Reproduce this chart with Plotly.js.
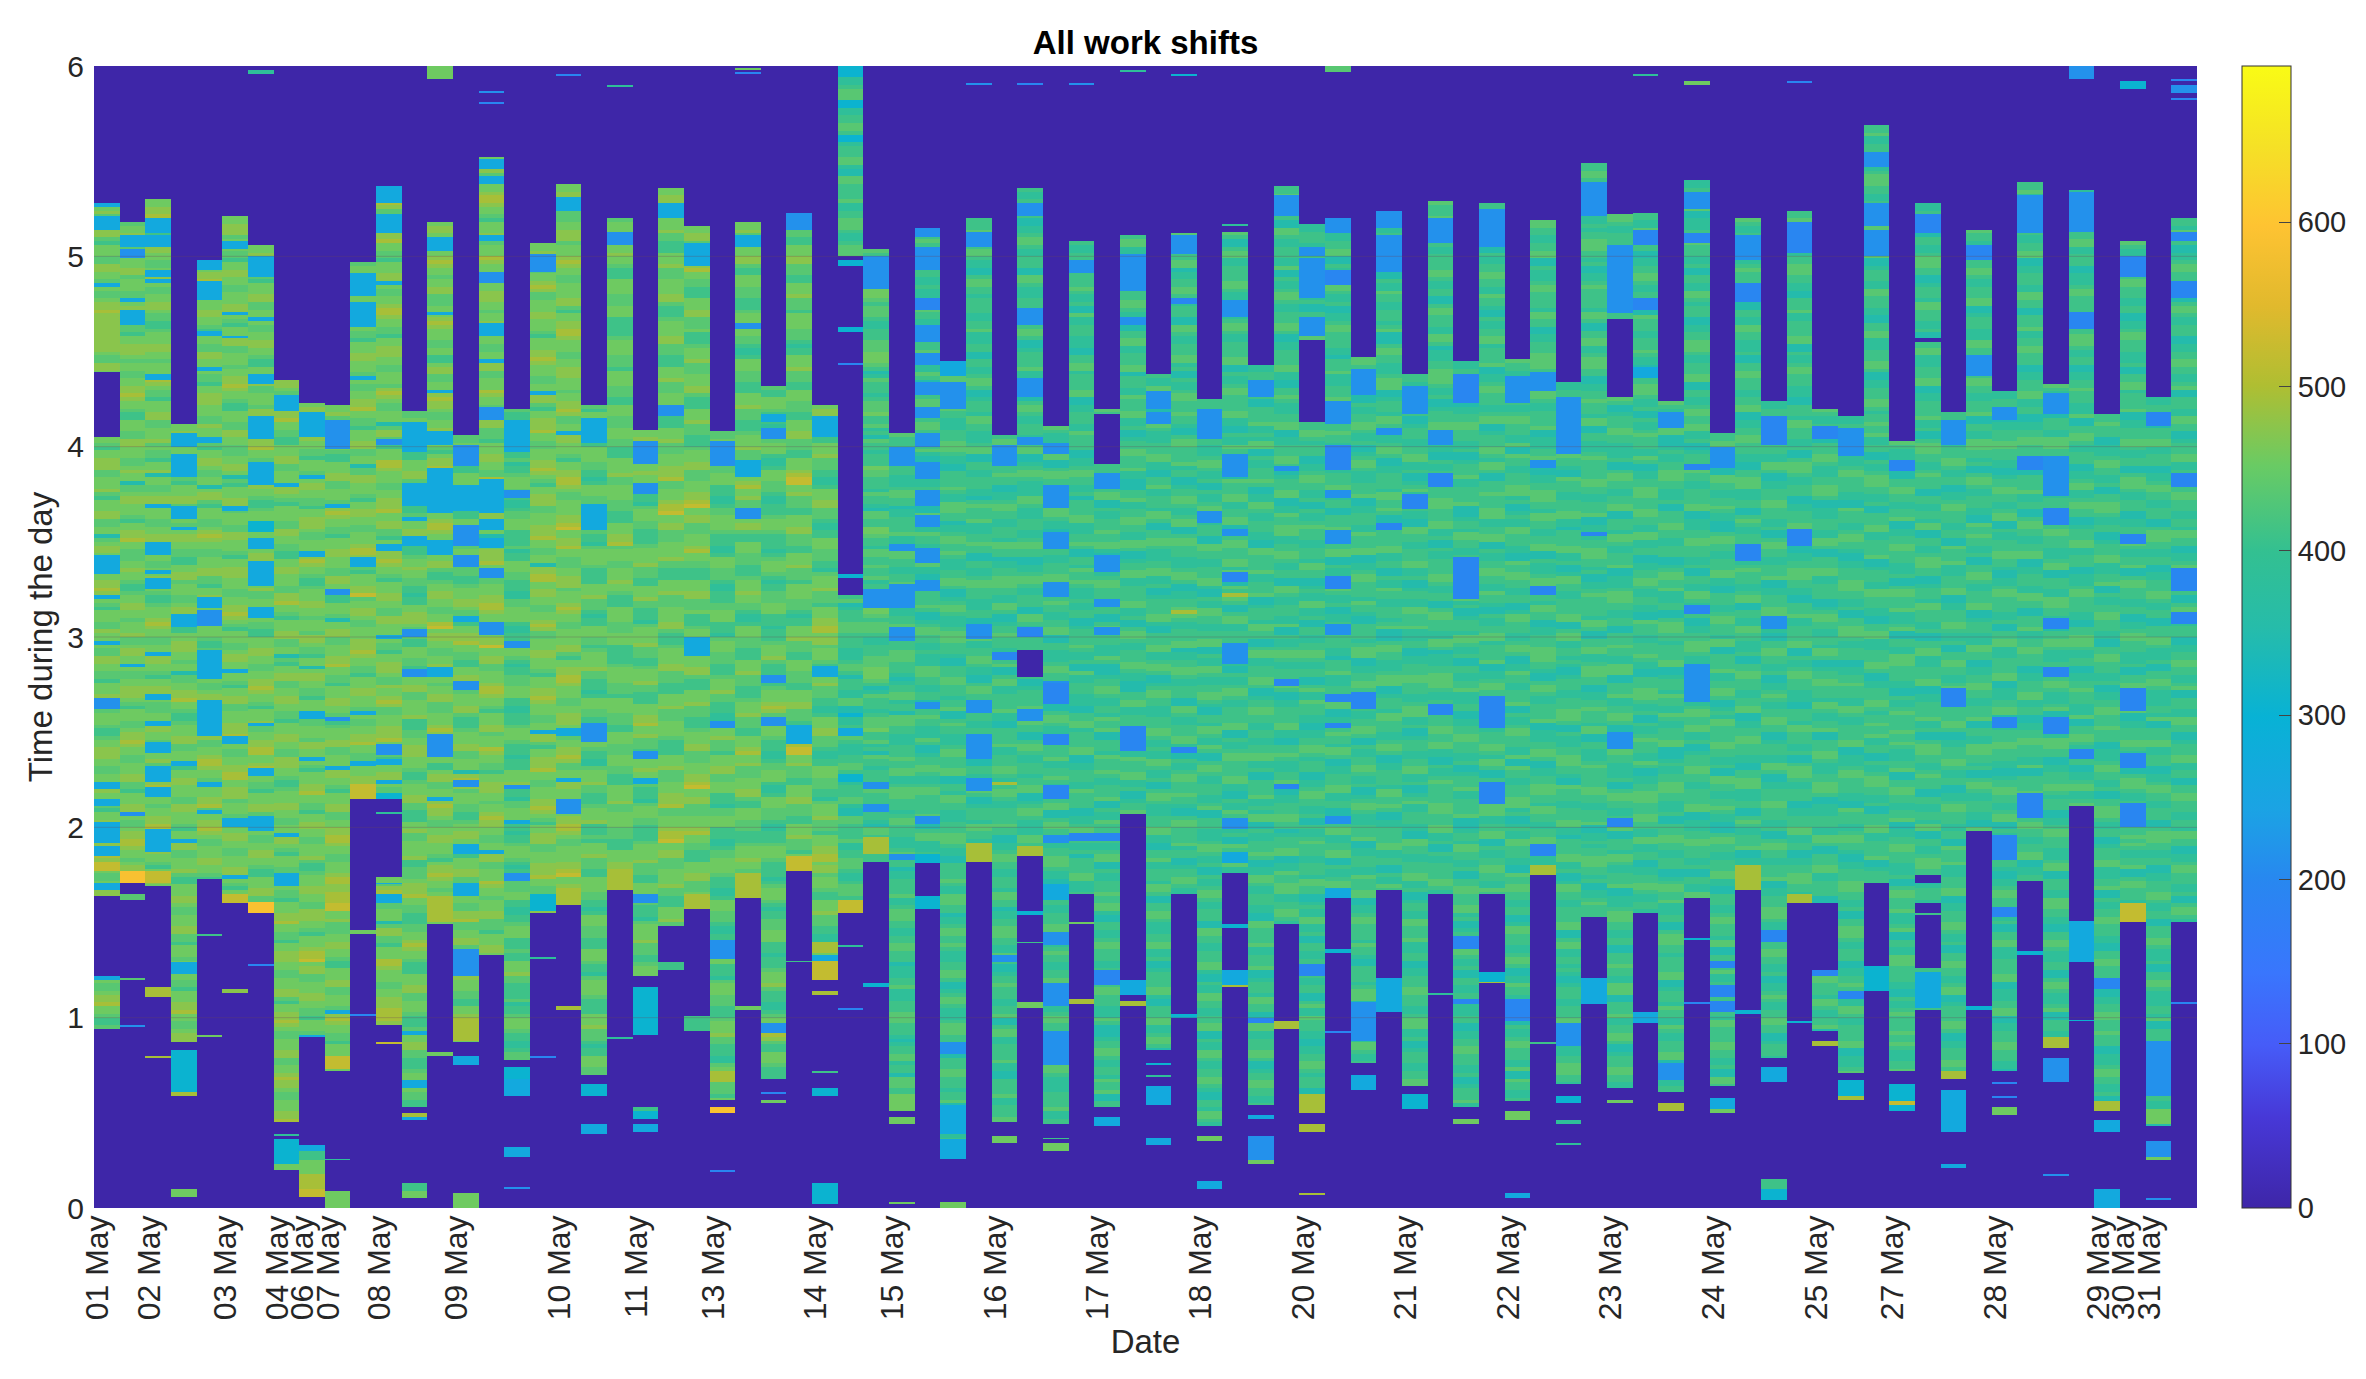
<!DOCTYPE html>
<html><head><meta charset="utf-8">
<script src="https://cdn.plot.ly/plotly-3.0.1.min.js"></script>
<style>html,body{margin:0;padding:0;background:#fff}</style></head>
<body><div id="chart" style="width:2366px;height:1379px"></div>
<script>
const dateCols=[0,2,5,7,8,9,11,14,18,21,24,28,31,35,39,43,47,51,55,59,63,67,70,74,78,79,80];
const dateLabels=["01 May","02 May","03 May","04 May","06 May","07 May","08 May","09 May","10 May","11 May","13 May","14 May","15 May","16 May","17 May","18 May","20 May","21 May","22 May","23 May","24 May","25 May","27 May","28 May","29 May","30 May","31 May"];
const yTicks=[0,1,2,3,4,5,6];
const barTicks=[0,100,200,300,400,500,600];
const levels={a:195,b:215,c:265,d:305,e:350,f:385,g:410,h:435,i:455,j:475,k:495,l:520,m:590};
// active time spans of each column, hours x100, top-bottom
const spans=["528-439 405-164 122-94","518-171","530-169","412-87","498-173","521-160","506-155","435-45","423-90","422-72","497-215","537-215 174-96","419-53","518-149","406-87","552-133","420-78","507-155","538-159","422-70","520-167","409-122 116-91","536-148","516-157","408-57","518-163","432-68","522-177","422-120","600-500 322-155","504-182","407-51","515-181","445-26","520-182","406-45","536-293 279-185","411-44","508-165","420-417 391-53","511-207","438-83","512-165","425-43","513-176","443-54","537-149","517-456 413-50","520-163","447-76","524-167","438-64","529-165","445-53","528-165","446-56","519-175","434-65","549-153","522-467 426-63","523-155","424-61","540-163","407-64","520-167","424-79","524-160","420-160 125-93","416-71","569-171","403-72","528-457 455-175 171-160 155-154 126-104","418-68","514-198","429-72","539-172","433-84","535-211 151-129","417-51","508-150","426-43","520-150"];
// fine structure of each column, one letter per 0.02 h from the column's top
const stripes=[
"iijhhiijjhgiiihhjjiihcihhijjkiihgghiijiihhjjiiihhgiijjhiiihhjiihgiijjjhhiiijhgiiijjhhiiehijjiihhhiijjkjiihgiiihhjiicihhjjiihhgiiijjjhhiiihgghiijjjiihhiijkjiihhgiijiihhijjkkjiiihhijjj",
"hiijjihhgiiijjhiiihhcijjiiihhgiijjjihiihhiijjkjiihggiiihhjjiiihhijiiehhijjiiihgiijjkiihhhiijiihgghiijjiihiiijhhijjiicihhiijjjihgiiihhijjkjiihhiiijjhhgiiijjiihhijjkkjiihijjjj",
"iijjkjiihgiijjiihhiijcihhiijjihhgghiiijjiihiiijkjihhgiiijjhhiiijhihhgiijeiihhijjjiiihhiijjhgiiihhiijjiihgghiiijkjiihhiicjjiihgiijjiihhhiijjjiihgiiijhhiijjkkjiihiijjkk",
"iijhhiiijjkiihhgiiijjhhiiihcijjiihhggiijjhiiihhijjiihggiijjjiihiiehhiijjkiihgghiiijjhhiiihgiijjiiihhjjiiihgiicjjhhiiijhggiiijjihhiiijjhhgiiihijjiihhgiiijjkiihhijjjii",
"hiijjkjihhiiijjiihgiiihhjjiicihhgiijjjiiihhjiiihhgiijjihhiieijjhgiiihhijkjiihhiiijjhhgiijjiiihhjiiihgghiijjiicihhijjjiihgiiijjhhiijkkjiihhiiijjk",
"iijjjhiiihhgiijjiihhiiijjcihgiiijjhhiiihiijjkjiihggiiihhjjiihhhiijjiehgiiijjhhiiihhjjiiihgiijjjiiihhiijjkjihgiiihhijjiiciihgiijjhhiiijjjkiiihhiijjkk",
"iijkjiihhgiiijjhhiicihhiijjiihggiiijjhhiiihjjiihgiijjkiihhiiehjjiihgghiiijjiihhiijjiihgiiijhhiijjcihhggiiijjiihhiijjkjiihgiiijhhiijjkk",
"jjihhiiijjkiihhggiiijjhhiiicjjihgiiiihhjjiihhggiijjiiihhjjkiihgiiijjhhiiehgiijjhhiijjiihhgiiijjiihhjjjiihgghiiijjiihhiicjjihgiiihhjjiihhgiiijjkiihhgiijjjiihhiiijjhgiijjkjihhiiijjhhiijk",
"ijjhhiiijjiihhgiiihcijjiihhgiijjjihhiiijjkjiihgghiiijjiihiiihjjihhgiieijjiihhgiiijjhhiiihjjiicihgiiijjkiihhgiijjiihhiiijhgghiiijjiihhjjjiihgiiijkkl",
"iijhhhiijjiihggiiijjhhiiihcjkjiihhgiiijjiiihhjjiihggiiiheiijjhhiiijjkiihhgiiijjiihgghiiijjhhiiicjjiihgiiijjhhiijjkkjiihhiiijkkjjkkkll",
"hiijjihhiiijjjkjiihhgiiijjiiihcihhiijjkiihhgiiijjhhiiehhjjiiihgiijjiihhiiijkkjiihgiiijjl",
"jiijkjhhiiijjjkiihhgiiijjcihhiijkkjiihhgiijjjiihhiiihjkjihhiiiehjjhhgiiikkjiiihhiijjjkiijjhhgiiijjkjiihgiiijjiihhjjiiicihhgiijjjihh",
"hhiijkjiihgggiiijjhhiiihggghciijjhhggghiijiihhggfggiijjjihhhggiiihhgggiijjhhiiiijggghhiijjjiiihgghiiijjhhgggiijhhiiiijgghhhijjjkiihhggg",
"ijjiihhiijkjiihiijjhhhiiijkjiiihhiiggijjhhiicjkjjihhiijjiiihgijjkjiihiijjhhiiijkkjiihhiiijjhgghiijjiihhiikl",
"hhiijjhhggiiijjiiihhggiijjcihhiijjhhhgghiiijjihhhgiijjkiihhggiijjihhiiijjhggghiiijjhhiiiejkkjhiiihhgghiijjiihggiiijjhhggiiihhjjk",
"iijjhhiiijkkjiihgiiijjhiiikjiihhgiijjjiihiijkjjiihhiicjjhhiiikjiihiiijjhhhgiiijjiihhkjjiihiijjjkjiiehhijjjkiijhhiiijjkkjiihhiijjl",
"hggiiijhhgggghfgghiiihggffghhiiigggghfggiiihhgggffhhiiiigffgghiiihgfgghhhiiiggffggghiiihgggfgggiiijgggfhhiiicggfgghiiihgfggghhhiiggffgghiiiggg",
"iijjiihhiijkjhhiiijjiiihgiiijjkjiiihhiicjjhgiijjjkiihhiiijjkjihgiijjjhhiiijjjkiihhiiejjkk",
"iijjkiihhhiijjjhiiijkjiihhiiiijjhgiijjkkjiiihhiijjjiiihiijjkjhhiicjjiiihgiijjkkjihhiiiijjkl",
"hgiiijhhhggiiiihhggfgiiihhhgggiiihggfhiiiihggggiiijhhhgfggiiihhghiiiijhhgggfgiiihhggghiiiihggffhiiijhhggghiiijggg",
"hiiihhiiijiihgggiiiihhhiiiggggghiiiihhhgiiiihhhggiiihhhiiihhgggiiiijhhiiiihhhgggiiijjk",
"iijhhhggiiijiiihgggfhiiihhgggghiiiijhhhggiiijhhgggfhiiiijhhhgghiiijhhgggiiijjk",
"iijjhhhiiiijhhgggiiijhhhiiiijjhggghiiiijjhhhgggiiijhhhiiiihggggiiijhhhiiijjjkhhiiijkkl",
"iijjhhhiiijkiihhgggiiijjhhhiggghiiijhhhiiijjhgggiiijhhhggghiiijjhhhiiijjkl",
"hhiiigggfhhiiigggffghhiiiihgggffgiiihhhgffggghhiiigggfhiiihhhggghiiijhhgggffhiiijhhhgiiijj",
"iijhhhiiijjhggiiihhhggghiiijiihhgffgiiihhhgggiiijhhhggghiiijhhhggiiijk",
"hggiiihgggffghhiiigffgiiihhhgffggghiiihggggfghiiihgfgghhhiiigggfggghiiijhgggffghiiijkj",
"iijhhhggiiijjhhhggiiijhhhgiiiihhhgfggiiijhhhggiiihhhggiiijjhhhggiiijkll",
"ijjhiiihggiiijhhhggffgiiijjhhhgffggiiihhhggfhiiijhhhgiiijjkk",
"eedffghhhgfffgghhgddfggghhfeehhgggghffgghhhgffghhhgddfgghefggghhhggggfffghhgegggffhh",
"hgghfgghhgiiihghhhgffggghhhiiihgefhgggfghhhigghfgehggfgggihhgggfhggfehhggiihggfhhgg",
"hgggfghhgggfffghhggeffgggghffghhhggffgghhgggefffgghfffggghhhgggfefgghhfggehhhggfffggghgghhffghh",
"ggghgeefghhggffgfffhhhggffggeggghggfffhgeefgghhgffghhggggghfeeghhfffggghgeehggffhggffggghffeehgg",
"hggghheeggfhhggfffggghhhgffeegggghgffhhhggeffghhgghgfffgghhgeefghhgfffghhhgggfeeggghhgggfggheeghggfffgh",
"ggghffgghhgffeeghhggfggggffgghfffggeeggffghhgeefgggfhhggfffghheeggffgggffeghggghfffgghggeeggffghhgggfffggee",
"ghhgffgggghggeeffghhggffgggfhhggeffgghhhggffhhgeefgghgggffggheeghhffgggghffeegggghffggghhgfk",
"gffghhggeeffghhgffgggeehhgfffgggghfgghhgeefgggghfffhggeeghhgffgggfgghheefghhgffffhhgfffgg",
"hgfffgghheeghhgggffgghhhgffeehhgggffggghheeffghggffgghheeggfffghhgggfgggheeghhgffffgggghffgg",
"gffggeefgggghgffgeehffgggfffeegghhfgggghheeffgggffhggggeeffghhggffgegggghhfffgghgeeggfhgghgfff",
"hgffgggheegffhgggggffghheegffggghgghhfeeggffghhgggffggeeghhgggfffhgeeefgghhgffggfhggheegggfhggg",
"ghhffgeeghhgffggghhgffeeegghhffggghhegggffhggghhffgeefgghhggghffeeegghffgghhggffhhgeefgghhffggg",
"gffhhgffgeeghhgfffggghhffeegghffgggfhhgeegghhgfffgghhffgeefgggghhfeeggghhffghhgeefghhggfffggghhgff",
"hgffggghheffgghhgffgggeehhgffggghhfgeegffghhggghggfeeghhgggghfggeefgghhgffghheeghhgggfffghhgeeffgghk",
"gggffgheegggfffghhgffgeegffghhgffgggeehhggffggghhfeegffhhggffgghheegffhhgffgghhgfeeggfhhgffhgeeghhgff",
"hgeeghhffgggghhgffeegffghhgffgggghheegffghhgggghhffeegffhgggffgeehggghhffgghheefghhggghhfhheehgk",
"ffgghhffgeegggghffgfhheegffggghgeeffhhgffgggffeehhgggghffgggheefgggfhhggeeghhffggghhgeefgghhggffgg",
"gghhgffggeehhgffgggffheegffghhgffggghhgeeffgggghhffeegghgfffgghheeffggghhggefggghheeffhgghhhff",
"ffgggfhhggeefgffhhffgeeggffgghhgffggeeghffhgggffeeffgghhgfgggeeffghhggffgeegffghggg",
"gghhffgghheegffghhhgffgeeffghhggggffeggghfffggghhheeffgghggfhhgeeffggghhffggeeg",
"hhgffgghhgeegffgghhgffgeefghhgfffgggheeffgggffhggghheeffghhggggfhggfeeggggfghhheeffgghhgff",
"hgeeffgggghhffggeegffhggffgggfgheeeghhggfffghhheefgggfhhgggffghhgeeffggggfhhgg",
"ggffghhhffgeefgggffgghhffgeefghffgggffeehhggffggghhffgeefggffhhggghfffggeeffggghhg",
"hggghhffgeegffgggghhgffggeeghhgggffhhgefffgghhhhgffgeefggghhgghhffeegffghggggghh",
"ffgghfffggeeffgghhgggffgeefggghffggggheeefggfhhggffgeegghhggghhfgeefgggfhhgffgeegg",
"gghhhffgghheegffgghhggffhggfeegffgghhfggggheeffghhgggffghheefggghhgfhhgeeggghg",
"hggffgggheegffghhgggffheehggffggghhhfgeefgffhhgggffeehgghhggffggeefhhgggffghhgeeff",
"hhggffgghheegfffghhggggfhhggeeffggghhhhggfeeghhgffggggheefffgghhgeeffgghhhggf",
"ffggghhhgeegfffgghhhggfeehgggffggghhffegggghhffgeefhhggffgggghheeghhffggfgfeefggg",
"gghhggffgggheeffgfgghhhggfgeeffghgggggfhhgeegghhffghhhggeeffgghgggfhheeggfffghggg",
"hhgffgggheefffghhhggffggeeggghggffhhheeggghffgghhgeefggghhggffffgeeghhggffgghheegggf",
"ggffhhffggeeffgghhgffggffeehgggffggghgffeeggghhhgffgeegffghgggffhgeeffgghhhggghh",
"hgffggghheeefgffgghhhggfffgeeggghhggffgggeefghhgghfffggeeghhhggfgggghheefgggfhggff",
"ffgggghheefffgghhgggffgeeggffhhgfgggeeffgghhhgffggghheeggffghhgghhffgeefggghhgg",
"gghhggffgeehhggffgghgffeeeghhggffggghhffeegggffghhgggfhheegggghffgghhgeefgfhhgg",
"hgffgggheeffghgggffghheeggffhhggfffgeegghhgggffgghheeffgghhgggffeegghhhfffggeeg",
"ffgghhggeefgggffhhgeeffggghhgggffgeeghhggffgggheeffggghhhgfffeegghhggffgeeffghg",
"gghhffggeeffgghhhggffeeggghffgggghheegffghhgggfffeegggfhhgggffgeeghhhgffgggeeffg",
"hgffggheeggghhgfffgghhhgeefffgggffhhgeeggghhffggggeefghhggffggfhhgeefgghhgggfh",
"ffgggghheefffghhggggffeehgggffghhggfeeffggghhhggffgeegghhhgffgggeeffgghgggffhhg",
"gghffggeegffghhhggffgeeggghhffggggheefgggffhhgggffeegghhfffggghhgeeffggghhgfggh",
"hgfffggheegghhggffggheeffgghhgggfffgeeghhggghfffgheeggffhhhggggffeegffghgggghgg",
"ffggfhheeggffghhhggeefgggfhhgggffgeegghhfffggghheeffgggghffgeeghhhggffghgggeegg",
"gghhgeeffggghhgffggeeffghhgggffggeehggghfffggghheeffggghhgffgeegghhggffghheefgg",
"hggffgeegghhgffggghheefgggfffhhggeeffgghhggffgggheeggffhhhggfgeeghhgffgggffeehgg",
"ffgghheeffggghhgggffeefgghhggffghheegffggghhggfeeffghhggggffgeegghhfffgggghheef",
"gghffggeeghhggffgghheeffgggffhhggeeggghffgghhgggeeffggghhffggeeffgghhgggffheegg",
"hgfffgheegggffhhhggeeffggghhgfgggeeffghhgggfffghheegggffhhhggffeegghhgfffggeegh",
"ffghhggeefggghhffgggeefffghhggggffeegghhhgffggeeffgghgggfffheegghhgffgggeeffghh",
"gghgggeefffghhggffgeegghhhgffggeefggghhfffggheegffgghhgggffeegghhgggffgeeffgghhg",
"hgffggheeghhgggffggeeffghhgggfffgeegghhfggggheeffggghhgffggeeghhhgffgggeeffgghg",
"ffggfheeggghhffgggeeffghhggffgggeeghhhggffggeeffggghhgffggeeggghhgfffgeegghhgff",
"ggfhhggeeffghhgggffgeeghhgffgggeeffgghhggffgheegggffhhggeefggghhffggeegghhgggff"];
// blocks and isolated bits per column: letter top-bottom
const blocks=[
"c528-526 c521-514 b470-467 c343-333 c322-320 b268-262 c224-220 c215-211 c203-192 c190-185 c171-167 l182-177 j470-450",
"c511-505 b504-499 c472-464 b208-206 m177-171 h165-162 h121-120 b96-95",
"c520-512 c511-505 c493-489 c438-435 c370-368 c350-343 c335-333 c331-325 c270-267 c256-253 c245-239 c232-224 c221-216 c199-187 l177-171 k116-111 k80-79",
"c407-400 c396-384 c369-362 c312-305 c235-232 c129-123 d83-61 k61-59 i10-6",
"c498-493 c487-477 c461-458 c405-402 c321-315 b314-306 c293-278 c267-248 c224-221 c209-207 g144-143 i91-90",
"c508-504 c458-457 c369-366 c248-244 c205-200 l165-160 j115-113",
"c500-489 c438-433 c416-404 c392-380 d361-355 c352-346 c340-327 c316-312 c255-253 c231-227 c206-199 m161-155 a128-127 f598-596",
"c427-419 c176-169 f39-38 d36-23 i23-20",
"c418-405 c345-342 c261-257 c33-30 g30-25 i25-18 k18-10 l10-6",
"b414-399 b325-322 b258-256 l80-73 f26-25 i9-0",
"c491-479 c476-463 c342-337 c235-232 l223-215 i146-144 a102-101",
"c537-528 c522-512 b404-401 c349-345 b244-238 c236-233 d218-215 f208-207 c171-170 c165-160 k105-98 l87-86",
"c413-397 c381-369 c353-348 b304-300 b283-279 c67-63 k50-48 c48-46 g13-9 i9-5",
"c510-503 c471-469 c408-401 c389-365 c351-343 c284-279 b249-237 k164-150 i82-80 i600-593",
"b401-390 c380-366 b359-348 b343-337 c311-308 b277-272 b225-221 c191-186 c171-164 b136-122 k100-88 c80-75 i8-0",
"c551-546 c542-538 c511-508 b492-486 c465-458 b421-414 c383-365 c362-356 c352-347 b336-331 b308-301 b587-586 a581-580",
"c414-397 b377-373 b298-294 b222-220 b176-172 d74-68 c68-59 c32-27 b11-10",
"b501-492 d165-156 f132-131 a80-79",
"c531-524 c252-248 b215-207 k168-159 k106-104 a596-595",
"c415-402 c370-356 b255-245 d65-59 c44-39",
"b513-506 k177-167 f90-89 f590-589",
"b403-391 b381-375 b240-236 c226-223 b165-160 d116-91 g53-51 d51-47 c44-40",
"c528-520 b422-416 g129-125",
"c507-495 c300-290 k165-157 g101-93",
"b403-390 b256-252 b141-131 k72-66 m53-50 a20-19",
"c511-505 b465-462 c393-384 b368-362 k176-163 i106-104 i599-598 a597-596",
"c417-413 b410-404 b280-276 b258-253 b97-92 a61-60 i57-55",
"b523-514 c254-244 l185-177 g130-129",
"c416-405 c285-279 c133-125 k140-134 l130-120 k114-112 g72-71 d63-59 d13-2",
"d600-596 d582-578 d498-495 d463-460 a444-443 d333-331 c252-248 l162-155 f138-137 a105-104",
"b500-483 b325-315 b224-220 b212-208 k195-186 d118-116",
"b400-390 b328-315 b305-298 b349-345 b186-183 i60-51 i48-44 i3-2",
"b515-510 b505-493 a478-472 b464-455 b449-443 b434-427 b421-415 b407-400 b392-383 b377-369 b364-358 b347-339 b330-324 b266-262 b206-202 d186-181 d164-157",
"c445-437 b434-420 b87-81 c54-39 c36-26 i3-0",
"b513-505 b307-299 b267-260 b249-236 b226-219 k192-182 b591-590",
"b401-390 a292-288 b133-129 i38-34",
"b528-521 b473-464 b436-426 b405-401 a305-300 b262-256 k190-185 d156-154 g140-139 i108-105 a591-590",
"b402-396 b380-368 b355-346 b329-321 b277-268 a276-265 a249-243 a222-215 b196-192 c170-162 b145-138 b118-106 b93-75 g37-36 i34-30",
"b498-491 a197-193 b591-590 i150-149 k110-107",
"b386-378 b343-334 b320-316 b305-301 a197-193 a125-117 c48-43",
"b501-491 b491-482 b468-464 a253-240 c120-112 k109-106 f598-597",
"b429-420 b418-412 d76-75 f70-69 c64-54 c37-33",
"b511-501 a478-475 a242-239 d102-100 d596-595",
"b420-411 b411-404 b366-360 i38-35 c14-10",
"b477-468 b396-384 b357-353 a334-329 b297-286 b205-199 c187-181 d149-147 c125-117 k117-116 f517-516",
"b435-426 a100-97 c49-47 b38-25 i25-23",
"b532-521 b390-387 a278-274 a223-220 k98-94",
"b505-500 b499-478 b468-458 a128-122 k60-50 k44-40 k8-7",
"b520-512 a493-485 b424-412 a401-388 b377-373 b356-349 a332-325 b307-301 a270-266 a255-252 b206-202 c168-163 d136-134 a93-92 h600-597",
"b441-427 a271-262 b108-88 c70-62",
"b524-515 b511-492 b410-406 a360-356 c121-103",
"b432-417 a375-367 d60-52",
"b520-507 b409-401 a386-379 a265-259 f113-112",
"a438-423 a342-320 a143-136 a110-107 i47-44",
"b525-505 a269-252 a224-212 d124-119 k119-118",
"b437-423 a110-98 i51-46 c8-5",
"b439-429 b393-389 a327-322 a191-185 k180-175 g87-86",
"b426-396 b97-85 d59-55 f46-44 f34-33",
"b539-521 a355-353 c121-107",
"b506-470 b250-241 a205-200 i57-55",
"a514-506 a478-472 c442-436 c103-97 f596-595",
"b418-410 b76-67 k55-51",
"b534-525 a512-507 a391-388 a317-312 b286-270 b277-266 d142-141 a108-107 i592-590",
"b400-389 a130-126 a117-111 a109-103 c58-52 i52-50",
"b511-498 a486-476 a349-340 k180-167 d104-102",
"a416-401 b311-304 a146-140 c74-66 g15-10 d10-4",
"a518-502 a357-348 k165-160 d98-97 a592-591",
"a411-404 k88-85 a125-122",
"b410-395 a114-110 d67-59 k59-57",
"b555-547 b528-516 b514-500 d127-114",
"a393-387 d65-56 l56-54 d54-51",
"a522-512 c124-105",
"b414-401 a273-263 k72-68 c62-40 c23-21",
"a506-498 b448-437 d106-104",
"b421-414 a258-252 a196-183 a158-153 i53-49 a66-65 a59-58",
"b532-512 a395-388 a218-205 d135-133",
"b428-417 b395-374 a368-359 a310-304 a284-279 a258-249 k90-84 b79-66 b18-17",
"b534-513 a471-462 a241-236 c151-129 d99-98 b600-593",
"a121-115 k56-51 c46-40 c10-0",
"a500-489 a354-349 a273-261 a239-231 a213-200 l160-150 d592-588",
"a418-411 b88-59 i52-44 b35-27 i27-25 b5-4",
"a513-508 a487-478 a386-379 a336-324 a313-307 a108-107 a593-592 b590-586 a583-582"];
const nRows=600;
const rowY=Array.from({length:nRows},(_,r)=>(r+0.5)/100);
const colX=spans.map((_,c)=>c+0.5);
const z=rowY.map(()=>new Array(spans.length).fill(0));
spans.forEach((s,c)=>{
  const parts=s.split(' ').map(p=>p.split('-').map(Number));
  const top=parts[0][0], st=stripes[c];
  parts.forEach(([t,b])=>{
    for(let r=b;r<t;r++){
      const k=Math.floor((top-r-1)/2)%st.length;
      z[r][c]=levels[st[k]];
    }
  });
  (blocks[c]||'').split(' ').filter(Boolean).forEach(tok=>{
    const v=levels[tok[0]];
    const [t,b]=tok.slice(1).split('-').map(Number);
    for(let r=Math.min(t,b);r<Math.max(t,b);r++) if(r<nRows) z[r][c]=v;
  });
});
const parula=[[0,'rgb(62,38,168)'],[0.079,'rgb(71,56,215)'],[0.143,'rgb(70,92,248)'],[0.206,'rgb(57,118,253)'],[0.286,'rgb(40,135,240)'],[0.349,'rgb(27,163,228)'],[0.43,'rgb(8,178,213)'],[0.508,'rgb(38,188,170)'],[0.575,'rgb(51,192,145)'],[0.65,'rgb(105,203,100)'],[0.72,'rgb(175,190,50)'],[0.79,'rgb(225,185,45)'],[0.86,'rgb(254,195,50)'],[0.93,'rgb(245,225,38)'],[1,'rgb(249,251,21)']];
const txt='#262626';
const font='"Liberation Sans",Arial,sans-serif';
Plotly.newPlot('chart',[{type:'heatmap',x:colX,y:rowY,z:z,zmin:0,zmax:695,zsmooth:false,colorscale:parula,hoverinfo:'skip',
  colorbar:{x:1.0214,xanchor:'left',xpad:0,ypad:0,y:0.5,yanchor:'middle',len:1,lenmode:'fraction',thickness:49,thicknessmode:'pixels',
    tickmode:'array',tickvals:barTicks,ticktext:barTicks.map(String),ticks:'inside',ticklen:12,tickcolor:'#444',tickwidth:1,
    outlinecolor:'#333',outlinewidth:1,tickfont:{family:font,size:29,color:txt}}}],
 {width:2366,height:1379,margin:{l:94,r:169,t:66,b:171,autoexpand:false},paper_bgcolor:'#fff',plot_bgcolor:'#fff',font:{family:font,color:txt},
  title:{text:'<b>All work shifts</b>',x:0.5,xref:'paper',xanchor:'center',y:0.9695,yref:'container',yanchor:'middle',font:{family:font,size:33,color:'#000'}},
  xaxis:{range:[0,82],tickmode:'array',tickvals:dateCols.map(c=>c+0.15),ticktext:dateLabels,tickangle:-90,ticks:'',showgrid:false,zeroline:false,ticklabelstandoff:0,
    tickfont:{family:font,size:32,color:txt},title:{text:'Date',font:{family:font,size:33,color:txt},standoff:10},automargin:false,showline:false},
  yaxis:{range:[0,6],tickmode:'array',tickvals:yTicks,ticks:'',showgrid:false,zeroline:false,ticklabelstandoff:9,tickfont:{family:font,size:30,color:txt},
    title:{text:'Time during the day',font:{family:font,size:33,color:txt},standoff:4},automargin:false,showline:false},
  shapes:yTicks.slice(1,6).map(v=>({type:'line',xref:'paper',x0:0,x1:1,yref:'y',y0:v,y1:v,line:{color:'rgba(110,70,90,0.3)',width:1},layer:'above'}))
 },{displayModeBar:false,responsive:false});
</script></body></html>
